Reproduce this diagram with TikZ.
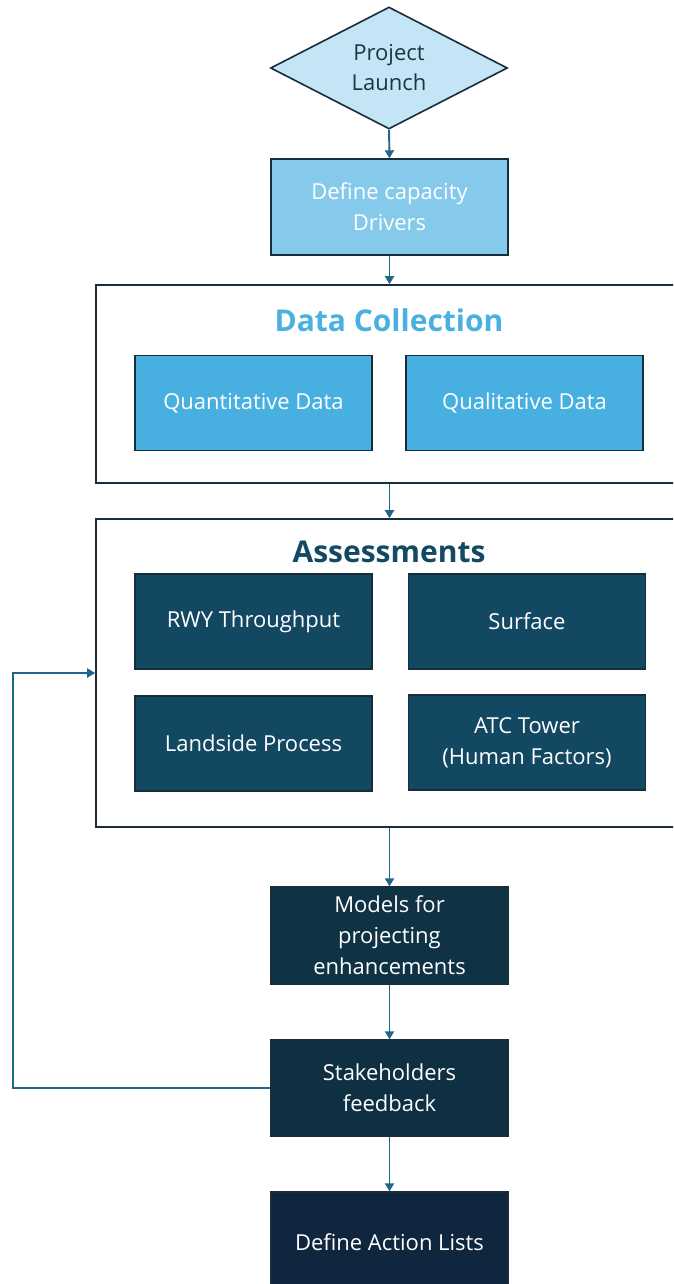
\documentclass[tikz,border=0pt]{standalone}
\usepackage{fontspec}
\setmainfont{Open Sans}
\usetikzlibrary{shapes.geometric,arrows.meta}
\definecolor{diamfill}{HTML}{C3E5F6}
\definecolor{capfill}{HTML}{86CAEB}
\definecolor{datafill}{HTML}{48B0E0}
\definecolor{assfill}{HTML}{134862}
\definecolor{modfill}{HTML}{0F3245}
\definecolor{stkfill}{HTML}{0F2F42}
\definecolor{actfill}{HTML}{10263E}
\definecolor{edge}{HTML}{182C3A}
\definecolor{arrowc}{HTML}{1F6789}
\definecolor{titleblue}{HTML}{4AB0E0}
\definecolor{titledark}{HTML}{134A63}
\definecolor{textdark}{HTML}{1E3445}
\tikzset{
  box/.style={rectangle, draw=edge, line width=1.4pt, minimum width=237pt, minimum height=95pt, inner sep=2pt, align=center, font=\fontsize{22}{31}\selectfont, text=white},
  frame/.style={rectangle, draw=edge, line width=1.6pt, fill=white},
  flow/.style={draw=arrowc, line width=1.9pt, -{Triangle[length=8pt,width=9pt]}},
  ttl/.style={font=\fontsize{30}{32}\selectfont\bfseries}
}
\begin{document}
\begin{tikzpicture}[x=1pt,y=-1pt]
\clip (0,0) rectangle (673,1284);
\fill[white] (0,0) rectangle (673,1284);
% diamond
\node[diamond, draw=edge, line width=1.6pt, fill=diamfill, aspect=1.94, minimum width=237pt, minimum height=122pt, inner sep=0pt, align=center, font=\fontsize{22}{30}\selectfont, text=textdark] (launch) at (389,68) {Project\\Launch};
\node[box, fill=capfill, minimum height=96pt] (cap) at (389.5,207) {Define capacity\\Drivers};
% data collection frame
\node[frame, minimum width=610pt, minimum height=198pt] (dc) at (401,384) {};
\node[ttl, text=titleblue] (dct) at (389,320) {Data Collection};
\node[box, fill=datafill] (quant) at (253.5,403) {Quantitative Data};
\node[box, fill=datafill] (qual) at (524.5,403) {Qualitative Data};
% assessments frame
\node[frame, minimum width=610pt, minimum height=308pt] (as) at (401,673) {};
\node[ttl, text=titledark] (ast) at (389,552) {Assessments};
\node[box, fill=assfill] (rwy) at (253.5,621.5) {RWY Throughput};
\node[box, fill=assfill] (surf) at (527,621.5) {Surface};
\node[box, fill=assfill] (land) at (253.5,743.5) {Landside Process};
\node[box, fill=assfill] (atc) at (527,742.5) {ATC Tower\\(Human Factors)};
% lower boxes
\node[box, fill=modfill, minimum height=97pt] (mod) at (389.5,935.5) {Models for\\projecting\\enhancements};
\node[box, fill=stkfill, minimum height=96pt] (stk) at (389.5,1088) {Stakeholders\\feedback};
\node[box, fill=actfill, minimum height=100pt] (act) at (389.5,1242) {Define Action Lists};
% connectors
\draw[flow] (launch.south) -- (cap.north);
\draw[flow] (cap.south) -- (cap.south |- dc.north);
\draw[flow] (cap.south |- dc.south) -- (cap.south |- as.north);
\draw[flow] (mod.north |- as.south) -- (mod.north);
\draw[flow] (mod.south) -- (stk.north);
\draw[flow] (stk.south) -- (act.north);
\coordinate (fbl) at (13,1088);
\coordinate (fbt) at (13,673);
\draw[flow] (stk.west) -- (fbl) -- (fbt) -- (as.west);
\end{tikzpicture}
\end{document}
